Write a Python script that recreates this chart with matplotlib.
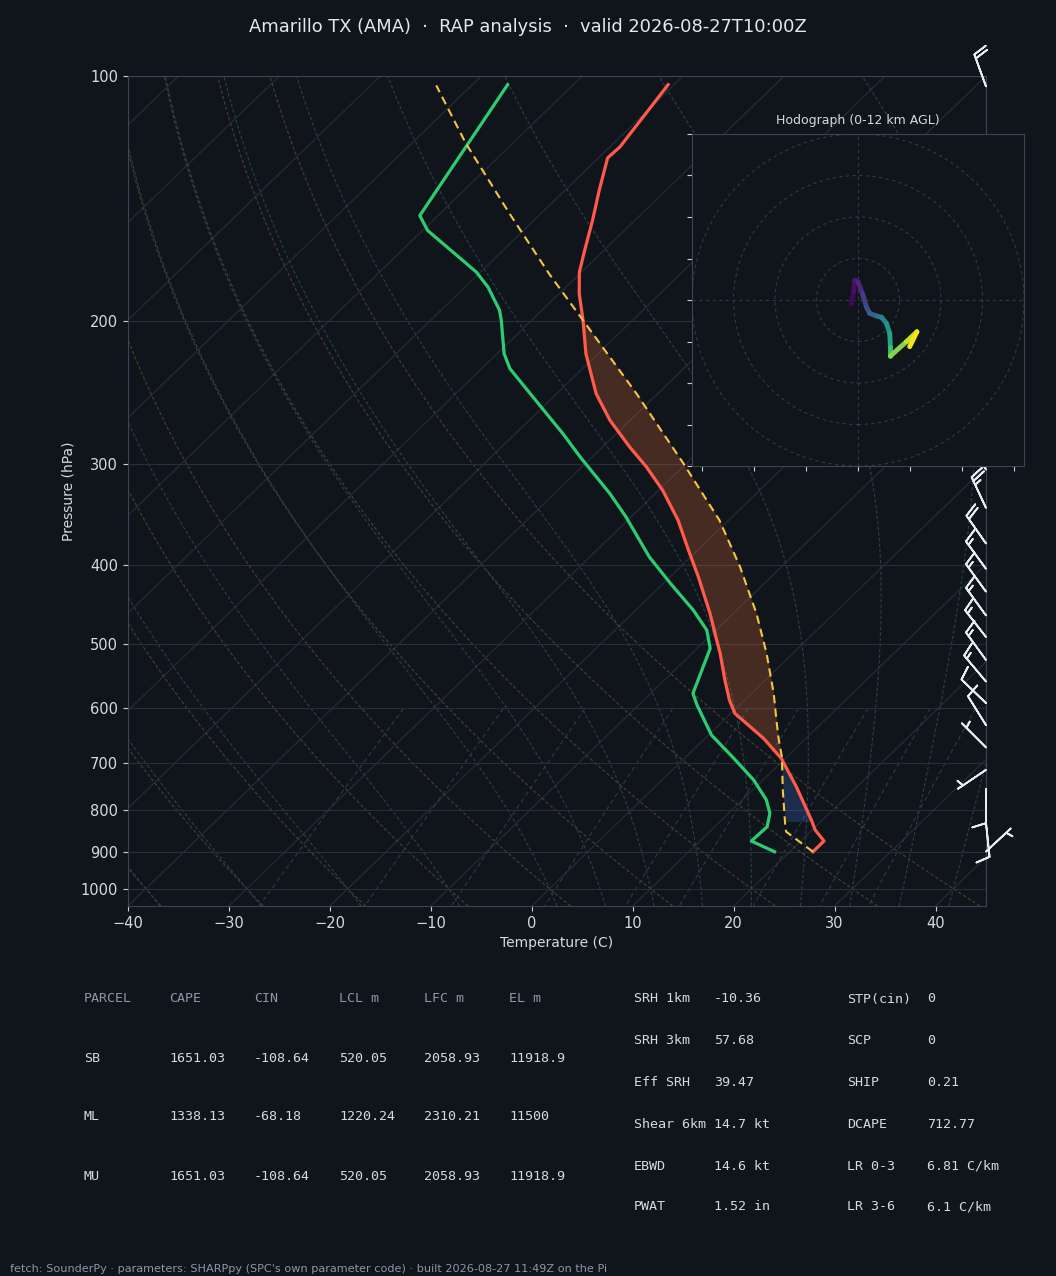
import numpy as np
import matplotlib
matplotlib.use("Agg")
import matplotlib.pyplot as plt
import matplotlib.transforms as mtransforms
from matplotlib.collections import LineCollection
from matplotlib.patches import Circle
from matplotlib.ticker import NullLocator

# ---------------- data ----------------
title = "Amarillo TX (AMA)  \u00b7  RAP analysis  \u00b7  valid 2026-08-27T10:00Z"
footer = ("fetch: SounderPy \u00b7 parameters: SHARPpy (SPC's own parameter code) \u00b7 "
          "built 2026-08-27 11:49Z on the Pi")

env_p = [900.4, 873.5, 846.7, 823.1, 749.0, 691.1, 653.1, 632.0, 608.5, 586.0, 553.7,
         513.4, 494.5, 458.4, 413.3, 383.3, 352.1, 323.4, 302.7, 286.1, 265.2, 245.9,
         219.6, 199.8, 185.3, 174.3, 163.9, 150.5, 138.3, 126.1, 122.3, 102.5]
env_t = [22.3, 22.3, 20.3, 18.9, 14.0, 9.6, 5.8, 3.3, 0.4, -1.5, -4.0,
         -7.2, -8.9, -12.3, -17.2, -20.9, -25.0, -29.6, -33.6, -37.3, -42.0, -46.1,
         -51.2, -54.9, -58.0, -60.2, -61.9, -64.2, -66.6, -69.1, -69.0, -70.6]

dew_p = [900.4, 873.5, 838.8, 807.6, 777.8, 735.0, 691.1, 647.0, 594.3, 575.0, 506.2,
         480.7, 454.1, 421.0, 390.6, 348.8, 326.4, 294.2, 275.4, 248.3, 229.1, 219.6,
         199.8, 194.2, 181.9, 174.3, 154.9, 148.5, 102.5]
dew_t = [18.5, 15.1, 15.2, 14.1, 12.4, 9.1, 4.9, 0.3, -4.2, -5.8, -8.7,
         -10.9, -14.3, -19.3, -24.1, -30.5, -34.5, -41.2, -45.3, -52.0, -57.2, -59.3,
         -63.0, -64.2, -67.7, -70.4, -79.5, -81.8, -86.5]

parcel_p = [900.4, 850.8, 838.8, 756.1, 688.1, 650.2, 620.1, 575.0, 513.4, 458.4, 401.7,
            352.1, 299.7, 245.9, 199.8, 175.2, 147.7, 121.1, 102.7]
parcel_t = [22.3, 17.6, 17.0, 13.0, 9.5, 7.1, 5.2, 2.2, -2.6, -7.7, -14.1,
            -20.9, -30.3, -42.1, -54.9, -63.0, -73.1, -84.6, -93.5]

cin_base_p = 827.0
lfc_p = 690.0
el_p = 199.8

barb_p = [900, 830, 754, 714, 670, 629, 591, 556, 523, 490, 461, 431, 404, 376, 340, 305, 103]
barb_dir = [47, 174, 180, 236, 315, 328, 314, 320, 324, 322, 324, 324, 324, 325, 335, 330, 340]
barb_spd = [5, 10, 10, 5, 5, 10, 10, 15, 15, 15, 15, 15, 15, 20, 25, 25, 20]

hodo_u = [-3.2, -2.1, -1.6, 0.0, 2.1, 4.0, 5.6, 8.9, 11.3, 13.7, 15.3, 15.6, 15.6, 23.3, 28.4, 24.9]
hodo_v = [-1.9, 4.0, 9.6, 8.8, 3.2, -3.2, -6.4, -7.7, -8.3, -11.2, -16.1, -22.5, -27.0, -20.1, -15.3, -22.5]
hodo_h = [0.0, 0.3, 0.6, 1.0, 1.8, 2.5, 3.2, 4.0, 4.8, 5.6, 6.6, 7.6, 9.0, 10.5, 11.5, 12.0]

p_ticks = [100, 200, 300, 400, 500, 600, 700, 800, 900, 1000]
t_ticks = [-40, -30, -20, -10, 0, 10, 20, 30, 40]

parcel_header = ["PARCEL", "CAPE", "CIN", "LCL m", "LFC m", "EL m"]
parcel_names = ["SB", "ML", "MU"]
parcel_cape = ["1651.03", "1338.13", "1651.03"]
parcel_cin = ["-108.64", "-68.18", "-108.64"]
parcel_lcl = ["520.05", "1220.24", "520.05"]
parcel_lfc = ["2058.93", "2310.21", "2058.93"]
parcel_el = ["11918.9", "11500", "11918.9"]

idx1_names = ["SRH 1km", "SRH 3km", "Eff SRH", "Shear 6km", "EBWD", "PWAT"]
idx1_vals = ["-10.36", "57.68", "39.47", "14.7 kt", "14.6 kt", "1.52 in"]
idx2_names = ["STP(cin)", "SCP", "SHIP", "DCAPE", "LR 0-3", "LR 3-6"]
idx2_vals = ["0", "0", "0.21", "712.77", "6.81 C/km", "6.1 C/km"]

# ---------------- style ----------------
W, H = 1056, 1276
bg = "#10151c"
txt = "#d5dae1"
muted = "#8b97a8"
gridc = "#262e39"
spinec = "#3a4555"

plt.rcParams["font.family"] = ["DejaVu Sans"]
fig = plt.figure(figsize=(W / 100, H / 100), dpi=100, facecolor=bg)

ax = fig.add_axes([128 / W, 1 - 906 / H, 858 / W, 830 / H], facecolor=bg)
ax.set_autoscale_on(False)
ax.set_yscale("log")
ax.set_ylim(1050, 100)
ax.set_xlim(-40, 45)
skew = ax.transScale + ax.transLimits + mtransforms.Affine2D().skew_deg(45, 0) + ax.transAxes

# background thermodynamic lines
pgrid = np.linspace(1050, 100, 200)
for T0 in np.arange(-130, 50, 10):
    ax.plot([T0, T0], [1050, 100], transform=skew, color=gridc, lw=0.8, zorder=1)

for t0 in np.arange(-40, 41, 10):
    tk = (t0 + 273.15) * (pgrid / 1000.0) ** 0.2857 - 273.15
    ax.plot(tk, pgrid, transform=skew, color="#4d3f2c", lw=0.8, ls=(0, (3, 2)), zorder=1)

Rd, Cp, Lv, eps = 287.04749, 1005.7, 2.501e6, 0.622


def sat_mr(p, T):
    es = 6.112 * np.exp(17.67 * (T - 273.15) / (T - 29.65))
    return eps * es / (p - es)


def dtdp(p, T):
    rs = sat_mr(p, T)
    return (Rd * T + Lv * rs) / (Cp + Lv * Lv * rs * eps / (Rd * T * T)) / p


def integrate(T0, path):
    T = T0.copy()
    out = [T.copy()]
    for i in range(len(path) - 1):
        p0 = path[i]
        h = path[i + 1] - p0
        k1 = dtdp(p0, T)
        k2 = dtdp(p0 + h / 2, T + h / 2 * k1)
        k3 = dtdp(p0 + h / 2, T + h / 2 * k2)
        k4 = dtdp(p0 + h, T + h * k3)
        T = T + h / 6 * (k1 + 2 * k2 + 2 * k3 + k4)
        out.append(T.copy())
    return np.array(out)


moist_t0 = np.concatenate((np.arange(-40, 0, 10), np.arange(0, 46, 5))).astype(float) + 273.15
p_up = np.linspace(1000, 100, 361)
p_dn = np.linspace(1000, 1050, 21)
T_up = integrate(moist_t0, p_up)
T_dn = integrate(moist_t0, p_dn)
p_m = np.concatenate((p_dn[::-1], p_up[1:]))
T_m = np.concatenate((T_dn[::-1], T_up[1:])) - 273.15
for j in range(len(moist_t0)):
    ax.plot(T_m[:, j], p_m, transform=skew, color="#24434d", lw=0.8, ls=(0, (3, 2)), zorder=1)

for w in [0.0004, 0.001, 0.002, 0.004, 0.007, 0.01, 0.016, 0.024, 0.032]:
    pm = np.linspace(600, 1050, 50)
    e = w * pm / (eps + w)
    le = np.log(e / 6.112)
    td = 243.5 * le / (17.67 - le)
    ax.plot(td, pm, transform=skew, color="#2d3a48", lw=0.8, ls=(0, (4, 3)), zorder=1)

# CAPE / CIN shading
lp = -np.log(np.asarray(env_p))
grid_p = np.exp(np.linspace(np.log(900.0), np.log(el_p), 600))
te = np.interp(-np.log(grid_p), lp, env_t)
tp = np.interp(-np.log(grid_p), -np.log(np.asarray(parcel_p)), parcel_t)
cape_mask = (tp >= te) & (grid_p <= lfc_p + 2)
cin_mask = (tp <= te) & (grid_p <= cin_base_p) & (grid_p >= lfc_p - 2)
ax.fill_betweenx(grid_p, tp, te, where=cape_mask, transform=skew, color="#e8703a",
                 alpha=0.25, lw=0, zorder=2)
ax.fill_betweenx(grid_p, tp, te, where=cin_mask, transform=skew, color="#3c78d8",
                 alpha=0.25, lw=0, zorder=2)

# profiles
ax.plot(env_t, env_p, transform=skew, color="#ff5a4a", lw=2.3, zorder=4)
ax.plot(dew_t, dew_p, transform=skew, color="#2ecc71", lw=2.3, zorder=4)
ax.plot(parcel_t, parcel_p, transform=skew, color="#f5c542", lw=1.5, ls=(0, (4, 2.5)), zorder=4)

# wind barbs
bd = np.radians(barb_dir)
bs = np.asarray(barb_spd, dtype=float)
bu = -bs * np.sin(bd)
bv = -bs * np.cos(bd)
ax.barbs(np.ones(len(barb_p)), barb_p, bu, bv, transform=ax.get_yaxis_transform(),
         length=7, color="#e8ecf0", linewidth=1.3, clip_on=False, zorder=5)

# axes styling
ax.set_yticks(p_ticks)
ax.set_yticklabels([str(v) for v in p_ticks])
ax.yaxis.set_minor_locator(NullLocator())
ax.set_xticks(t_ticks)
ax.yaxis.grid(True, color=gridc, lw=0.8)
ax.xaxis.grid(False)
ax.tick_params(colors="#c8d0d8", labelcolor=txt, labelsize=10.5)
for s in ax.spines.values():
    s.set_color(spinec)
ax.set_xlabel("Temperature (C)", color=txt, fontsize=10)
ax.set_ylabel("Pressure (hPa)", color=txt, fontsize=10)
ax.set_ylim(1050, 100)
ax.set_xlim(-40, 45)

# hodograph
hax = fig.add_axes([692 / W, 1 - 466 / H, 332 / W, 332 / H], facecolor=bg)
hax.set_xlim(-80, 80)
hax.set_ylim(-80, 80)
ringc = "#2e3a48"
for r in (20, 40, 60, 80):
    hax.add_patch(Circle((0, 0), r, fill=False, ls=(0, (3, 3)), ec=ringc, lw=0.8))
hax.axhline(0, color=ringc, lw=0.8, ls=(0, (3, 3)))
hax.axvline(0, color=ringc, lw=0.8, ls=(0, (3, 3)))
pts = np.column_stack([hodo_u, hodo_v])
segs = np.stack([pts[:-1], pts[1:]], axis=1)
hh = np.asarray(hodo_h)
lc = LineCollection(segs, cmap="viridis", norm=plt.Normalize(0, 12), linewidths=3.5,
                    capstyle="round")
lc.set_array((hh[:-1] + hh[1:]) / 2)
hax.add_collection(lc)
hax.tick_params(labelleft=False, labelbottom=False, colors="#c8d0d8")
for s in hax.spines.values():
    s.set_color(spinec)
hax.set_title("Hodograph (0-12 km AGL)", color=txt, fontsize=9, pad=7)

# title & footer
fig.text(0.5, 1 - 27 / H, title, ha="center", va="center", color="#e4e8ed", fontsize=12.9)
fig.text(10 / W, 1 - 1269 / H, footer, ha="left", va="center", color=muted, fontsize=8.15)

# tables
mono = "DejaVu Sans Mono"
fs = 9.6
col_x = [84, 169, 254, 339, 424, 509]
row_y = [999, 1058, 1117, 1176]
for x, h in zip(col_x, parcel_header):
    fig.text(x / W, 1 - row_y[0] / H, h, family=mono, fontsize=fs, color=muted, va="center")
cols = [parcel_names, parcel_cape, parcel_cin, parcel_lcl, parcel_lfc, parcel_el]
for ci, col in enumerate(cols):
    for ri, val in enumerate(col):
        fig.text(col_x[ci] / W, 1 - row_y[ri + 1] / H, val, family=mono, fontsize=fs,
                 color=txt, va="center")

idx_y = [999, 1041, 1083, 1124, 1166, 1207]
for names, vals, xn, xv in ((idx1_names, idx1_vals, 634, 714), (idx2_names, idx2_vals, 847, 927)):
    for y, n, v in zip(idx_y, names, vals):
        fig.text(xn / W, 1 - y / H, n, family=mono, fontsize=fs, color=txt, va="center")
        fig.text(xv / W, 1 - y / H, v, family=mono, fontsize=fs, color=txt, va="center")

fig.savefig("out.png", dpi=100, facecolor=bg)
